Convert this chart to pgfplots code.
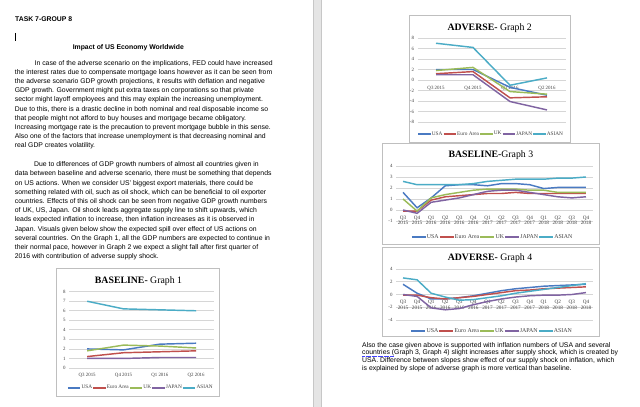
\documentclass[border=0pt]{standalone}
\usepackage{fontspec}
\setmainfont{Liberation Sans}
\newfontfamily\chartfont{Liberation Serif}
\usepackage{pgfplots}
\pgfplotsset{compat=1.18}

\definecolor{cUSA}{HTML}{4A7AC2}
\definecolor{cEU}{HTML}{C0504D}
\definecolor{cUK}{HTML}{9BBB59}
\definecolor{cJP}{HTML}{8064A2}
\definecolor{cAS}{HTML}{4BACC6}

\newcommand\bodyf{\fontsize{6.85}{8}\selectfont}
% one line of page text, y = baseline measured from the top
\newcommand\tl[3]{\node[anchor=base west, inner sep=0pt, font=\bodyf] at (#1,{407-#2}) {#3};}

\pgfplotsset{
  xlchart/.style={
    scale only axis, anchor=south west,
    axis line style={draw=none}, tick style={draw=none},
    ymajorgrids, major grid style={draw=black!16, line width=0.75pt},
    /pgf/number format/assume math mode=true,
    yticklabel style={font=\chartfont\fontsize{4.9}{5}\selectfont, text=black!75},
    xticklabel style={font=\chartfont\fontsize{4.9}{5.6}\selectfont, text=black!75, anchor=center, align=center},
    legend columns=-1,
    legend style={draw=none, fill=none, inner sep=0pt,
      font=\chartfont\fontsize{5.3}{6}\selectfont,
      nodes={inner sep=0.4pt, text=black!75},
      /tikz/every even column/.append style={column sep=0pt}},
    legend image code/.code={\draw[##1, line width=1.4pt] (0pt,0pt) -- (12.5pt,0pt);},
    every axis plot/.append style={line width=1.45pt, no marks},
    clip=false,
  },
  quarters/.style={
    xmin=-0.5, xmax=13.5, xtick={0,...,13},
    xticklabels={Q3\\2015,Q4\\2015,Q1\\2016,Q2\\2016,Q3\\2016,Q4\\2016,Q1\\2017,Q2\\2017,Q3\\2017,Q4\\2017,Q1\\2018,Q2\\2018,Q3\\2018,Q4\\2018},
    xticklabel style={font=\chartfont\fontsize{5.2}{5.8}\selectfont},
    legend style={font=\chartfont\fontsize{5.9}{6.5}\selectfont},
    legend image code/.code={\draw[##1, line width=1.4pt] (0pt,0pt) -- (14pt,0pt);},
  },
  fourq/.style={
    xmin=-0.5, xmax=3.5, xtick={0,...,3},
    xticklabels={Q3 2015,Q4 2015,Q1 2016,Q2 2016},
  },
}

\begin{document}
\begin{tikzpicture}[x=1pt,y=1pt]
\path[use as bounding box] (0,0) rectangle (640,407);
\fill[white] (0,0) rectangle (640,407);
\fill[black!10] (313,0) rectangle (321,407);
\draw[black!22, line width=0.4pt] (313.2,0) -- (313.2,407) (320.8,0) -- (320.8,407);

% ---------- left page text ----------
\node[anchor=base west, inner sep=0pt, font=\bodyf\bfseries] at (15,{407-21.5}) {TASK 7-GROUP 8};
\draw[black, line width=0.5pt] (15,{407-33}) -- (15,{407-41});
\node[anchor=base, inner sep=0pt, font=\bodyf\bfseries] at (128.3,{407-49.5}) {Impact of US Economy Worldwide};

\tl{34.5}{65.6}{In case of the adverse scenario on the implications, FED could have increased}
\tl{14.7}{74.7}{the interest rates due to compensate mortgage loans however as it can be seen from}
\tl{14.7}{83.8}{the adverse scenario GDP growth projections, it results with deflation and negative}
\tl{14.7}{92.9}{GDP growth. Government might put extra taxes on corporations so that private}
\tl{14.7}{102.0}{sector might layoff employees and this may explain the increasing unemployment.}
\tl{14.7}{111.1}{Due to this, there is a drastic decline in both nominal and real disposable income so}
\tl{14.7}{120.2}{that people might not afford to buy houses and mortgage became obligatory.}
\tl{14.7}{129.3}{Increasing mortgage rate is the precaution to prevent mortgage bubble in this sense.}
\tl{14.7}{138.4}{Also one of the factors that increase unemployment is that decreasing nominal and}
\tl{14.7}{147.5}{real GDP creates volatility.}

\tl{34}{166.8}{Due to differences of GDP growth numbers of almost all countries given in}
\tl{14.7}{176.0}{data between baseline and adverse scenario, there must be something that depends}
\tl{14.7}{185.2}{on US actions. When we consider US' biggest export materials, there could be}
\tl{14.7}{194.4}{something related with oil, such as oil shock, which can be beneficial to oil exporter}
\tl{14.7}{203.6}{countries. Effects of this oil shock can be seen from negative GDP growth numbers}
\tl{14.7}{212.8}{of UK, US, Japan. Oil shock leads aggregate supply line to shift upwards, which}
\tl{14.7}{222.0}{leads expected inflation to increase, then inflation increases as it is observed in}
\tl{14.7}{231.2}{Japan. Visuals given below show the expected spill over effect of US actions on}
\tl{14.7}{240.4}{several countries. On the Graph 1, all the GDP numbers are expected to continue in}
\tl{14.7}{249.6}{their normal pace, however in Graph 2 we expect a slight fall after first quarter of}
\tl{14.7}{258.8}{2016 with contribution of adverse supply shock.}

% ---------- right page text ----------
\tl{362}{347.3}{Also the case given above is supported with inflation numbers of USA and several}
\tl{362}{355.0}{countries (Graph 3, Graph 4) slight increases after supply shock, which is created by}
\tl{362}{362.7}{USA. Difference between slopes show effect of our supply shock on inflation, which}
\tl{362}{370.4}{is explained by slope of adverse graph is more vertical than baseline.}
\draw[blue!75, line width=0.4pt, dash pattern=on 0.7pt off 0.5pt] (362,{407-355.9}) -- (394,{407-355.9});

% ---------- chart frames and titles ----------
\draw[black!25, line width=0.6pt] (56,{407-268}) rectangle (219,{407-396});
\draw[black!25, line width=0.6pt] (409,{407-15}) rectangle (570,{407-142});
\draw[black!25, line width=0.6pt] (382,{407-143}) rectangle (599,{407-244});
\draw[black!25, line width=0.6pt] (382,{407-247}) rectangle (599,{407-336});
\node[anchor=base, inner sep=0pt, font=\chartfont\fontsize{9.8}{11}\selectfont] at (138.5,{407-283.3}) {\textbf{BASELINE-} Graph 1};
\node[anchor=base, inner sep=0pt, font=\chartfont\fontsize{9.8}{11}\selectfont] at (489.7,{407-30.3}) {\textbf{ADVERSE-} Graph 2};
\node[anchor=base, inner sep=0pt, font=\chartfont\fontsize{9.8}{11}\selectfont] at (490.9,{407-157.3}) {\textbf{BASELINE-}Graph 3};
\node[anchor=base, inner sep=0pt, font=\chartfont\fontsize{9.8}{11}\selectfont] at (490,{407-260.3}) {\textbf{ADVERSE-} Graph 4};

% ---------- Graph 1: baseline GDP ----------
\begin{axis}[xlchart, fourq, at={(69pt,39pt)}, width=145.3pt, height=76.3pt,
  ymin=0, ymax=8, ytick={0,...,8},
  xticklabel style={yshift=-7.5pt},
  legend style={at={(0.49,-0.262)}, anchor=center}]
\addplot[cUSA] coordinates {(0,2.0) (1,1.9) (2,2.5) (3,2.6)};
\addlegendentry{USA}
\addplot[cEU] coordinates {(0,1.2) (1,1.6) (2,1.7) (3,1.8)};
\addlegendentry{Euro Area}
\addplot[cUK] coordinates {(0,1.8) (1,2.4) (2,2.3) (3,2.1)};
\addlegendentry{UK}
\addplot[cJP] coordinates {(0,1.0) (1,1.0) (2,1.1) (3,1.1)};
\addlegendentry{JAPAN}
\addplot[cAS] coordinates {(0,7.0) (1,6.2) (2,6.1) (3,6.0)};
\addlegendentry{ASIAN}
\end{axis}

% ---------- Graph 2: adverse GDP ----------
\begin{axis}[xlchart, fourq, at={(417.5pt,285pt)}, width=148pt, height=84pt,
  ymin=-8, ymax=8, ytick={-8,-6,...,8},
  xticklabel style={yshift=34pt},
  legend style={at={(0.493,-0.143)}, anchor=center}]
\addplot[cUSA] coordinates {(0,2.0) (1,2.0) (2,-1.4) (3,-2.9)};
\addlegendentry{USA}
\addplot[cEU] coordinates {(0,1.2) (1,1.6) (2,-3.4) (3,-3.2)};
\addlegendentry{Euro Area}
\addplot[cUK] coordinates {(0,1.8) (1,2.4) (2,-2.2) (3,-2.7)};
\addlegendentry{UK}
\addplot[cJP] coordinates {(0,1.0) (1,1.0) (2,-4.1) (3,-5.7)};
\addlegendentry{JAPAN}
\addplot[cAS] coordinates {(0,7.0) (1,6.2) (2,-1.0) (3,0.4)};
\addlegendentry{ASIAN}
\end{axis}

% ---------- Graph 3: baseline inflation ----------
\begin{axis}[xlchart, quarters, at={(396pt,186pt)}, width=197pt, height=55pt,
  ymin=-1, ymax=4, ytick={-1,...,4},
  xticklabel style={yshift=0.7pt},
  legend style={at={(0.487,-0.291)}, anchor=center}]
\addplot[cUSA] coordinates {(0,1.6) (1,0.2) (2,1.1) (3,2.2) (4,2.3) (5,2.3) (6,2.2) (7,2.4) (8,2.4) (9,2.3) (10,1.95) (11,2.05) (12,2.05) (13,2.05)};
\addlegendentry{USA}
\addplot[cEU] coordinates {(0,-0.1) (1,-0.1) (2,0.9) (3,1.2) (4,1.3) (5,1.4) (6,1.5) (7,1.5) (8,1.6) (9,1.5) (10,1.5) (11,1.5) (12,1.5) (13,1.5)};
\addlegendentry{Euro Area}
\addplot[cUK] coordinates {(0,1.0) (1,-0.1) (2,1.1) (3,1.4) (4,1.6) (5,1.8) (6,1.9) (7,1.9) (8,1.9) (9,1.8) (10,1.8) (11,1.6) (12,1.6) (13,1.6)};
\addlegendentry{UK}
\addplot[cJP] coordinates {(0,0.0) (1,-0.3) (2,0.7) (3,0.9) (4,1.1) (5,1.4) (6,1.7) (7,1.8) (8,1.8) (9,1.6) (10,1.4) (11,1.2) (12,1.1) (13,1.2)};
\addlegendentry{JAPAN}
\addplot[cAS] coordinates {(0,2.6) (1,2.3) (2,2.3) (3,2.3) (4,2.3) (5,2.4) (6,2.6) (7,2.7) (8,2.8) (9,2.8) (10,2.8) (11,2.9) (12,2.9) (13,3.0)};
\addlegendentry{ASIAN}
\end{axis}

% ---------- Graph 4: adverse inflation ----------
\begin{axis}[xlchart, quarters, at={(396pt,87pt)}, width=197pt, height=51pt,
  ymin=-4, ymax=4, ytick={-4,-2,...,4},
  xticklabel style={yshift=15.2pt},
  legend style={at={(0.485,-0.216)}, anchor=center}]
\addplot[cUSA] coordinates {(0,1.6) (1,0.2) (2,-0.7) (3,-0.7) (4,-0.5) (5,-0.2) (6,0.2) (7,0.6) (8,0.9) (9,1.1) (10,1.3) (11,1.4) (12,1.5) (13,1.6)};
\addlegendentry{USA}
\addplot[cEU] coordinates {(0,-0.1) (1,-0.1) (2,-0.5) (3,-0.7) (4,-0.5) (5,-0.3) (6,0.0) (7,0.3) (8,0.6) (9,0.7) (10,0.9) (11,1.0) (12,1.1) (13,1.2)};
\addlegendentry{Euro Area}
\addlegendimage{cUK, line width=1.4pt}
\addlegendentry{UK}
\addplot[cJP] coordinates {(0,0.0) (1,-0.3) (2,-2.1) (3,-2.4) (4,-2.2) (5,-1.6) (6,-1.1) (7,-0.7) (8,-0.4) (9,-0.2) (10,-0.1) (11,-0.1) (12,0.0) (13,0.3)};
\addlegendentry{JAPAN}
\addplot[cAS] coordinates {(0,2.6) (1,2.3) (2,0.2) (3,-0.4) (4,-0.9) (5,-0.8) (6,-0.5) (7,-0.2) (8,0.2) (9,0.5) (10,0.8) (11,1.1) (12,1.4) (13,1.7)};
\addlegendentry{ASIAN}
\end{axis}
\end{tikzpicture}
\end{document}
